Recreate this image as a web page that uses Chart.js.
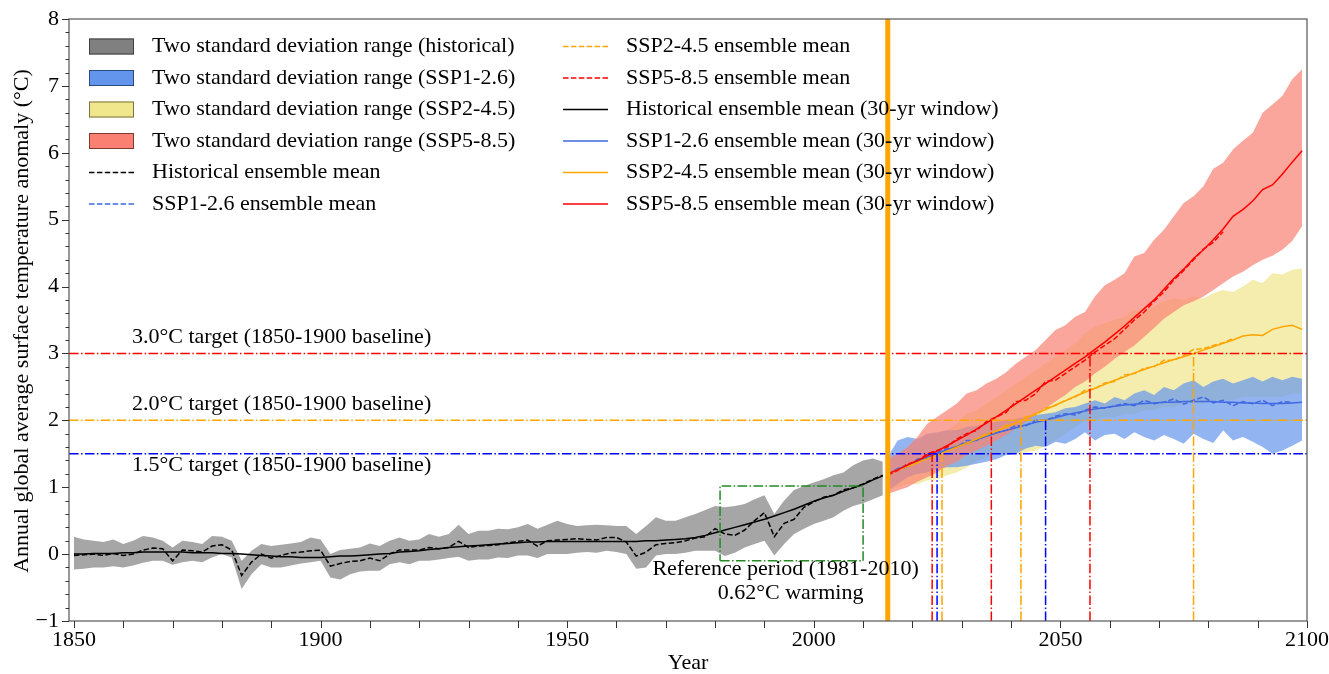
<!DOCTYPE html>
<html><head><meta charset="utf-8">
<script src="https://cdn.jsdelivr.net/npm/chart.js@4.4.1/dist/chart.umd.min.js"></script>
<style>html,body{margin:0;padding:0;background:#fff;}#wrap{width:1329px;height:674px;}</style>
</head><body><div id="wrap"><canvas id="c" width="1329" height="674"></canvas></div>
<script>
// ---------------- DATA ----------------
const histYears = [1850,1852,1854,1856,1858,1860,1862,1864,1866,1868,1870,1872,1874,1876,1878,1880,1882,1884,1886,1888,1890,1892,1894,1896,1898,1900,1902,1904,1906,1908,1910,1912,1914,1916,1918,1920,1922,1924,1926,1928,1930,1932,1934,1936,1938,1940,1942,1944,1946,1948,1950,1952,1954,1956,1958,1960,1962,1964,1966,1968,1970,1972,1974,1976,1978,1980,1982,1984,1986,1988,1990,1992,1994,1996,1998,2000,2002,2004,2006,2008,2010,2012,2014];
const histMean = [-0.02,-0.01,0.00,-0.02,0.01,-0.02,0.00,0.06,0.09,0.08,
  -0.10,0.06,0.05,0.03,0.12,0.14,0.06,-0.32,-0.12,0.00,
  -0.06,-0.02,0.02,0.03,0.05,0.06,-0.18,-0.14,-0.11,-0.10,
  -0.06,-0.10,0.00,0.06,0.06,0.06,0.10,0.08,0.10,0.19,
  0.10,0.12,0.13,0.14,0.17,0.19,0.21,0.12,0.20,0.21,
  0.22,0.23,0.22,0.21,0.25,0.25,0.18,-0.03,0.03,0.14,
  0.16,0.17,0.20,0.24,0.26,0.38,0.30,0.28,0.36,0.50,
  0.62,0.26,0.46,0.52,0.70,0.78,0.85,0.88,0.96,0.99,
  1.05,1.12,1.18];
const histUpper = [0.26,0.22,0.20,0.18,0.22,0.15,0.20,0.27,0.25,0.20,
  0.10,0.20,0.18,0.15,0.27,0.26,0.20,-0.10,0.05,0.15,
  0.12,0.14,0.16,0.18,0.25,0.22,0.00,0.06,0.08,0.10,
  0.16,0.12,0.20,0.25,0.20,0.22,0.30,0.26,0.30,0.44,
  0.30,0.35,0.35,0.38,0.37,0.40,0.45,0.38,0.44,0.50,
  0.45,0.42,0.43,0.44,0.43,0.42,0.42,0.30,0.42,0.55,
  0.50,0.50,0.55,0.60,0.66,0.72,0.70,0.72,0.75,0.82,
  0.88,0.60,0.80,0.96,1.02,1.07,1.12,1.18,1.22,1.33,
  1.40,1.43,1.38];
const histLower = [-0.23,-0.22,-0.20,-0.20,-0.18,-0.20,-0.17,-0.13,-0.10,-0.10,
  -0.16,-0.12,-0.10,-0.12,-0.05,0.00,-0.05,-0.52,-0.30,-0.15,
  -0.20,-0.20,-0.17,-0.14,-0.12,-0.10,-0.35,-0.38,-0.30,-0.26,
  -0.25,-0.25,-0.15,-0.12,-0.15,-0.10,-0.10,-0.08,-0.06,-0.04,
  -0.10,-0.08,-0.08,-0.05,-0.06,-0.02,-0.02,-0.06,0.00,0.00,
  0.00,0.02,0.03,0.02,0.05,0.03,0.00,-0.22,-0.20,-0.02,
  0.00,0.00,0.02,0.05,0.05,0.05,-0.03,0.02,0.10,0.15,
  0.20,-0.02,0.15,0.30,0.38,0.45,0.50,0.55,0.65,0.72,
  0.76,0.82,0.88];
const histSmooth = [0.00,0.00,0.01,0.01,0.01,0.02,0.02,0.03,0.03,0.03,
  0.03,0.03,0.02,0.02,0.02,0.01,0.01,0.00,-0.01,-0.02,
  -0.03,-0.04,-0.04,-0.05,-0.05,-0.05,-0.04,-0.03,-0.03,-0.02,
  -0.01,0.00,0.01,0.03,0.04,0.05,0.07,0.08,0.10,0.11,
  0.12,0.13,0.14,0.15,0.16,0.17,0.18,0.18,0.19,0.19,
  0.19,0.19,0.19,0.19,0.19,0.19,0.19,0.19,0.20,0.20,
  0.21,0.22,0.23,0.25,0.28,0.32,0.36,0.40,0.44,0.48,
  0.52,0.57,0.62,0.67,0.73,0.79,0.84,0.88,0.94,0.99,
  1.04,1.11,1.17];

const sspYears = [2015,2017,2019,2021,2023,2025,2027,2029,2031,2033,2035,2037,2039,2041,2043,2045,2047,2049,2051,2053,2055,2057,2059,2061,2063,2065,2067,2069,2071,2073,2075,2077,2079,2081,2083,2085,2087,2089,2091,2093,2095,2097,2099];

const ssp126Mean = [1.18,1.28,1.30,1.42,1.44,1.52,1.58,1.60,1.70,1.70,
  1.78,1.82,1.85,1.92,1.92,2.00,2.00,2.06,2.10,2.08,
  2.15,2.20,2.18,2.22,2.25,2.22,2.30,2.25,2.27,2.32,
  2.24,2.30,2.35,2.26,2.30,2.22,2.28,2.25,2.30,2.22,
  2.28,2.27,null];
const ssp126Smooth = [1.20,1.27,1.33,1.39,1.45,1.50,1.56,1.61,1.66,1.71,
  1.76,1.81,1.85,1.89,1.93,1.97,2.00,2.04,2.08,2.11,
  2.14,2.17,2.19,2.21,2.23,2.24,2.25,2.26,2.27,2.27,
  2.28,2.28,2.28,2.28,2.27,2.27,2.26,2.26,2.25,2.25,
  2.25,2.26,2.27];
const ssp126Upper = [1.45,1.70,1.75,1.72,1.80,1.82,1.85,1.85,1.90,1.92,
  1.95,1.98,2.00,2.02,2.05,2.08,2.10,2.12,2.18,2.20,
  2.25,2.30,2.25,2.35,2.30,2.40,2.45,2.38,2.50,2.45,
  2.55,2.60,2.50,2.58,2.62,2.55,2.60,2.65,2.58,2.65,
  2.60,2.65,2.62];
const ssp126Lower = [0.95,1.05,1.15,1.20,1.22,1.28,1.30,1.30,1.32,1.35,
  1.38,1.42,1.48,1.50,1.58,1.62,1.60,1.68,1.65,1.72,
  1.82,1.70,1.78,1.80,1.72,1.82,1.75,1.70,1.78,1.72,
  1.65,1.80,1.72,1.66,1.85,1.70,1.75,1.68,1.60,1.50,
  1.55,1.62,1.70];

const ssp245Mean = [1.18,1.25,1.33,1.36,1.45,1.46,1.55,1.62,1.64,1.72,
  1.80,1.83,1.93,1.95,2.05,2.08,2.18,2.22,2.30,2.35,
  2.45,2.47,2.56,2.58,2.68,2.70,2.78,2.80,2.90,2.90,
  2.97,3.06,3.07,3.12,3.16,3.22,null,null,null,null,
  null,null,null];
const ssp245Smooth = [1.20,1.26,1.31,1.37,1.42,1.48,1.54,1.60,1.66,1.72,
  1.78,1.84,1.90,1.96,2.03,2.10,2.16,2.23,2.29,2.36,
  2.42,2.48,2.54,2.60,2.65,2.71,2.76,2.81,2.86,2.91,
  2.95,3.00,3.05,3.10,3.15,3.20,3.26,3.28,3.27,3.36,
  3.40,3.42,3.36];
const ssp245Upper = [1.35,1.45,1.55,1.60,1.75,1.80,1.85,1.95,2.10,2.15,
  2.25,2.35,2.45,2.55,2.65,2.75,2.85,2.95,3.05,3.15,
  3.30,3.40,3.45,3.50,3.55,3.65,3.62,3.70,3.78,3.82,
  3.80,3.85,3.82,3.90,3.95,3.92,4.00,4.10,4.05,4.20,
  4.18,4.25,4.27];
const ssp245Lower = [0.95,1.00,1.05,1.05,1.10,1.12,1.18,1.22,1.30,1.38,
  1.45,1.50,1.52,1.50,1.52,1.55,1.62,1.70,1.80,1.90,
  2.00,2.00,2.05,2.05,2.10,2.10,2.15,2.15,2.20,2.20,
  2.25,2.25,2.25,2.30,2.30,2.30,2.35,2.35,2.35,2.35,
  2.35,2.40,2.40];

const ssp585Mean = [1.18,1.25,1.35,1.38,1.50,1.55,1.60,1.72,1.80,1.85,
  1.98,2.05,2.12,2.28,2.30,2.40,2.58,2.60,2.70,2.80,
  2.90,3.02,3.12,3.22,3.36,3.50,3.62,3.78,3.92,4.10,
  4.24,4.40,4.56,4.66,4.82,null,null,null,null,null,
  null,null,null];
const ssp585Smooth = [1.20,1.26,1.33,1.40,1.47,1.54,1.62,1.70,1.78,1.87,
  1.96,2.05,2.15,2.25,2.35,2.45,2.55,2.65,2.75,2.85,
  2.95,3.06,3.17,3.29,3.41,3.54,3.67,3.80,3.96,4.12,
  4.26,4.42,4.55,4.70,4.86,5.05,5.15,5.28,5.45,5.52,
  5.68,5.86,6.03];
const ssp585Upper = [1.42,1.50,1.60,1.75,1.95,2.05,2.15,2.25,2.40,2.45,
  2.55,2.62,2.72,2.85,2.95,3.05,3.20,3.35,3.42,3.55,
  3.62,3.85,4.02,4.10,4.20,4.45,4.50,4.70,4.85,5.05,
  5.25,5.35,5.50,5.76,5.85,6.05,6.18,6.30,6.60,6.72,
  6.85,7.10,7.25];
const ssp585Lower = [0.90,0.95,1.00,1.08,1.15,1.22,1.32,1.38,1.48,1.55,
  1.62,1.70,1.78,1.88,1.98,2.08,2.18,2.28,2.38,2.50,
  2.58,2.70,2.80,2.92,3.02,3.12,3.25,3.38,3.52,3.62,
  3.72,3.78,3.85,3.95,4.05,4.15,4.22,4.32,4.40,4.46,
  4.55,4.68,4.90];

// warming targets (1850-1900 baseline) and the years each scenario crosses them
const targetLevels = [3.0, 2.0, 1.5];
const targetLabels = ['3.0\u00b0C target (1850-1900 baseline)', '2.0\u00b0C target (1850-1900 baseline)', '1.5\u00b0C target (1850-1900 baseline)'];
const cross126Years = [2025, 2047];   const cross126Levels = [1.5, 2.0];
const cross245Years = [2026, 2042, 2077]; const cross245Levels = [1.5, 2.0, 3.0];
const cross585Years = [2024, 2036, 2056]; const cross585Levels = [1.5, 2.0, 3.0];
const projectionStart = 2015;
const refPeriod = [1981, 2010];
const refBoxRange = [-0.1, 1.02];
const refLabel = ['Reference period (1981-2010)', '0.62\u00b0C warming'];

const xMajorTicks = [1850, 1900, 1950, 2000, 2050, 2100];
const yMajorTicks = [-1, 0, 1, 2, 3, 4, 5, 6, 7, 8];

// ---------------- STYLE ----------------
const FONT = '"Liberation Serif", "Times New Roman", serif';
const C = {
  hist: '#000000', s126: '#4169E1', s245: '#FFA500', s585: '#FF0000',
  histBand: 'rgba(128,128,128,0.7)', b126: 'rgba(100,149,237,0.7)',
  b245: 'rgba(240,230,140,0.7)', b585: 'rgba(250,128,114,0.7)',
  t30: '#FF0000', t20: '#FFA500', t15: '#0000FF'
};
const DASH = [5.5, 2.4];
const DASHDOT = [9.6, 2.4, 1.5, 2.4];

const xy = (xs, ys) => xs.map((x, i) => ({x, y: ys[i]}));
const datasets = [];
let ord = 200;
function band(years, up, lo, color) {
  datasets.push({data: xy(years, up), fill: '+1', backgroundColor: color, borderWidth: 0, pointRadius: 0, order: ord});
  datasets.push({data: xy(years, lo), fill: false, borderWidth: 0, pointRadius: 0, order: ord - 1});
  ord -= 2;
}
function line(years, vals, color, dash, width, o) {
  datasets.push({data: xy(years, vals), borderColor: color, borderWidth: width || 1.5, borderDash: dash || [], fill: false, pointRadius: 0, spanGaps: false, order: o});
}
band(histYears, histUpper, histLower, C.histBand);
band(sspYears, ssp245Upper, ssp245Lower, C.b245);
band(sspYears, ssp126Upper, ssp126Lower, C.b126);
band(sspYears, ssp585Upper, ssp585Lower, C.b585);

line(histYears, histMean, C.hist, DASH, 1.5, 100);
line(sspYears, ssp126Mean, C.s126, DASH, 1.5, 99);
line(sspYears, ssp245Mean, C.s245, DASH, 1.5, 98);
line(sspYears, ssp585Mean, C.s585, DASH, 1.5, 97);
line(histYears, histSmooth, C.hist, [], 1.5, 96);
line(sspYears, ssp126Smooth, C.s126, [], 1.5, 95);
line(sspYears, ssp245Smooth, C.s245, [], 1.5, 94);
line(sspYears, ssp585Smooth, C.s585, [], 1.5, 93);

// horizontal target lines
const tColors = [C.t30, C.t20, C.t15];
targetLevels.forEach((lv, i) => line([1849, 2100], [lv, lv], tColors[i], DASHDOT, 1.5, 80 - i));
// vertical crossing lines
function crossLines(years, levels, color, o) {
  years.forEach((yr, i) => line([yr, yr], [-1, levels[i]], color, DASHDOT, 1.5, o));
}
crossLines(cross585Years, cross585Levels, C.t30, 70);
crossLines(cross126Years, cross126Levels, C.t15, 69);
crossLines(cross245Years, cross245Levels, C.t20, 68);
// projection start
line([projectionStart, projectionStart], [-1, 8], '#FFA500', [], 5, 60);
// reference period box
line([refPeriod[0], refPeriod[1], refPeriod[1], refPeriod[0], refPeriod[0]],
     [refBoxRange[0], refBoxRange[0], refBoxRange[1], refBoxRange[1], refBoxRange[0]], '#228B22', DASHDOT, 1.5, 50);

// legend entries
const legendCol1 = [
  {type: 'patch', fill: 'rgb(128,128,128)', edge: '#404040', text: 'Two standard deviation range (historical)'},
  {type: 'patch', fill: 'rgb(100,149,237)', edge: '#2a4a80', text: 'Two standard deviation range (SSP1-2.6)'},
  {type: 'patch', fill: 'rgb(240,230,140)', edge: '#7a7440', text: 'Two standard deviation range (SSP2-4.5)'},
  {type: 'patch', fill: 'rgb(250,128,114)', edge: '#803a33', text: 'Two standard deviation range (SSP5-8.5)'},
  {type: 'line', color: C.hist, dash: DASH, text: 'Historical ensemble mean'},
  {type: 'line', color: C.s126, dash: DASH, text: 'SSP1-2.6 ensemble mean'}
];
const legendCol2 = [
  {type: 'line', color: C.s245, dash: DASH, text: 'SSP2-4.5 ensemble mean'},
  {type: 'line', color: C.s585, dash: DASH, text: 'SSP5-8.5 ensemble mean'},
  {type: 'line', color: C.hist, dash: [], text: 'Historical ensemble mean (30-yr window)'},
  {type: 'line', color: C.s126, dash: [], text: 'SSP1-2.6 ensemble mean (30-yr window)'},
  {type: 'line', color: C.s245, dash: [], text: 'SSP2-4.5 ensemble mean (30-yr window)'},
  {type: 'line', color: C.s585, dash: [], text: 'SSP5-8.5 ensemble mean (30-yr window)'}
];

const decor = {
  id: 'decor',
  afterDraw(chart) {
    const {ctx, chartArea: a, scales: {x, y}} = chart;
    ctx.save();
    // frame
    ctx.setLineDash([]);
    ctx.strokeStyle = '#555'; ctx.lineWidth = 1.2;
    ctx.strokeRect(a.left, a.top, a.right - a.left, a.bottom - a.top);
    // ticks
    ctx.strokeStyle = '#333'; ctx.lineWidth = 1;
    for (let v = 1850; v <= 2100; v += 10) {
      const px = Math.round(x.getPixelForValue(v)) + 0.5;
      ctx.beginPath(); ctx.moveTo(px, a.bottom); ctx.lineTo(px, a.bottom + 7); ctx.stroke();
    }
    for (let i = -5; i <= 40; i++) {
      const v = i / 5;
      const py = Math.round(y.getPixelForValue(v)) + 0.5;
      const len = (i % 5 === 0) ? 7 : 3.5;
      ctx.beginPath(); ctx.moveTo(a.left - len, py); ctx.lineTo(a.left, py); ctx.stroke();
    }
    // tick labels
    ctx.fillStyle = '#000';
    ctx.font = '22px ' + FONT;
    ctx.textAlign = 'center'; ctx.textBaseline = 'middle';
    xMajorTicks.forEach(v => ctx.fillText(String(v), x.getPixelForValue(v), a.bottom + 19));
    ctx.textAlign = 'right';
    yMajorTicks.forEach(v => ctx.fillText(v < 0 ? '\u2212' + Math.abs(v) : String(v), a.left - 10, y.getPixelForValue(v)));
    // axis titles
    ctx.textAlign = 'center';
    ctx.fillText('Year', (a.left + a.right) / 2, 663);
    ctx.save();
    ctx.translate(22, 321); ctx.rotate(-Math.PI / 2);
    ctx.fillText('Annual global average surface temperature anomaly (\u00b0C)', 0, 0);
    ctx.restore();
    // target labels
    ctx.textAlign = 'left';
    const tx = a.left + 63;
    ctx.fillText(targetLabels[0], tx, y.getPixelForValue(targetLevels[0]) - 16);
    ctx.fillText(targetLabels[1], tx, y.getPixelForValue(targetLevels[1]) - 16);
    ctx.fillText(targetLabels[2], tx, y.getPixelForValue(targetLevels[2]) + 11);
    // reference period labels
    ctx.textAlign = 'center';
    const cx = x.getPixelForValue((refPeriod[0] + refPeriod[1]) / 2);
    ctx.fillText(refLabel[0], cx - 6, y.getPixelForValue(refBoxRange[0]) + 8);
    ctx.fillText(refLabel[1], cx - 1, y.getPixelForValue(refBoxRange[0]) + 32);
    // legend
    const rows = [46.5, 78, 109.5, 141, 172.5, 204];
    ctx.textAlign = 'left';
    const drawEntry = (e, x0, x1, tx0, ry) => {
      if (e.type === 'patch') {
        ctx.fillStyle = e.fill; ctx.fillRect(x0, ry - 8, x1 - x0, 16);
        ctx.strokeStyle = e.edge; ctx.lineWidth = 1; ctx.setLineDash([]);
        ctx.strokeRect(x0 + 0.5, ry - 7.5, x1 - x0 - 1, 15);
      } else {
        ctx.strokeStyle = e.color; ctx.lineWidth = 1.5; ctx.setLineDash(e.dash);
        ctx.beginPath(); ctx.moveTo(x0, ry); ctx.lineTo(x1, ry); ctx.stroke();
        ctx.setLineDash([]);
      }
      ctx.fillStyle = '#000';
      ctx.fillText(e.text, tx0, ry);
    };
    legendCol1.forEach((e, i) => drawEntry(e, 89, 134, 152, rows[i]));
    legendCol2.forEach((e, i) => drawEntry(e, 563, 608, 626, rows[i]));
    ctx.restore();
  }
};

new Chart(document.getElementById('c'), {
  type: 'line',
  data: {datasets},
  plugins: [decor],
  options: {
    responsive: false, animation: false, devicePixelRatio: 1,
    layout: {padding: {left: 0, right: 22, top: 19, bottom: 0}},
    plugins: {legend: {display: false}, tooltip: {enabled: false}},
    elements: {line: {tension: 0}, point: {radius: 0}},
    scales: {
      x: {type: 'linear', min: 1849, max: 2100,
          grid: {display: false}, border: {display: false}, ticks: {display: false},
          afterFit: s => { s.height = 53; }},
      y: {type: 'linear', min: -1, max: 8,
          grid: {display: false}, border: {display: false}, ticks: {display: false},
          afterFit: s => { s.width = 69; }}
    }
  }
});
</script>
</body></html>
